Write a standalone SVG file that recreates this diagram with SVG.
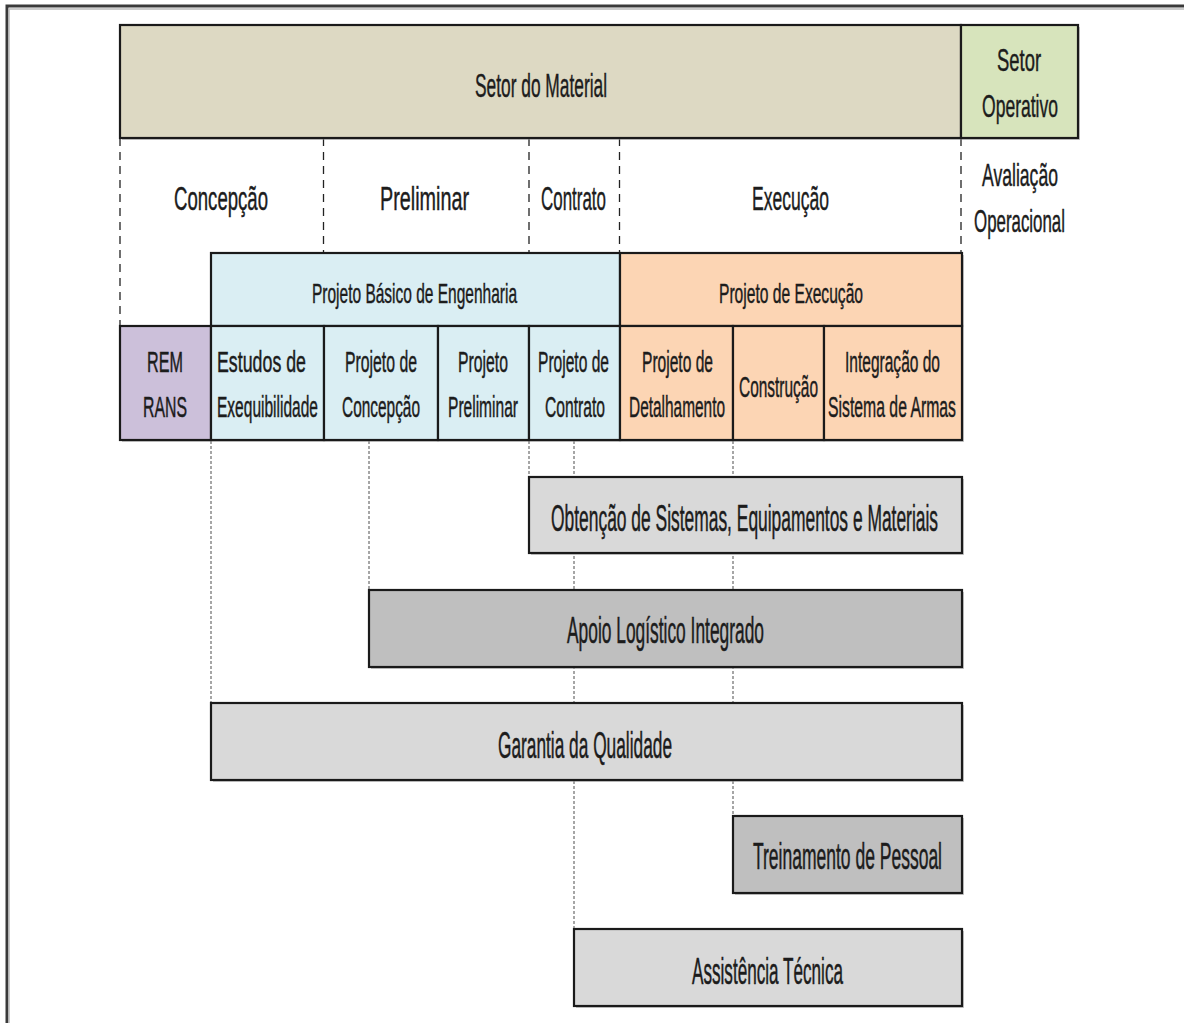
<svg xmlns="http://www.w3.org/2000/svg" width="1184" height="1023" viewBox="0 0 1184 1023">
<style>
text{font-family:"Liberation Sans",Arial,sans-serif;fill:#1c1c1c;stroke:#1c1c1c;stroke-width:0.25;text-anchor:middle}
.tp{font-size:18.5px}
.go{font-size:17.2px}
.hd{font-size:15.5px}
.rw{font-size:15.7px}
.br{font-size:17.4px}
.box{stroke:#1a1a1a;stroke-width:2.2}
.sh{fill:#9a9a9a;opacity:0.55}
.dash{stroke:#222;stroke-width:1.3;stroke-dasharray:8 6;fill:none}
.dot{stroke:#777;stroke-width:1.3;stroke-dasharray:3 2;fill:none}
.tan{fill:#DDD9C3}.grn{fill:#D7E4BC}.blu{fill:#DAEEF3}.pch{fill:#FCD5B4}.pur{fill:#CCC0DA}.lg{fill:#D9D9D9}.dg{fill:#BFBFBF}
</style>
<rect x="0" y="0" width="1184" height="1023" fill="#ffffff"/>
<path d="M7,1023 V6 H1184" fill="none" stroke="#3a3a3a" stroke-width="3"/>
<path d="M9,1023 V9 H1184" fill="none" stroke="#bbbbbb" stroke-width="1.5"/>

<g id="connectors">
<line class="dash" x1="120" y1="138" x2="120" y2="326"/>
<line class="dash" x1="323.5" y1="138" x2="323.5" y2="253"/>
<line class="dash" x1="529" y1="138" x2="529" y2="253"/>
<line class="dash" x1="619.5" y1="138" x2="619.5" y2="253"/>
<line class="dash" x1="961" y1="138" x2="961" y2="252"/>
<line class="dot" x1="211" y1="441" x2="211" y2="703"/>
<line class="dot" x1="369" y1="441" x2="369" y2="590"/>
<line class="dot" x1="529" y1="441" x2="529" y2="477"/>
<line class="dot" x1="574" y1="441" x2="574" y2="929"/>
<line class="dot" x1="733" y1="441" x2="733" y2="816"/>
</g>

<g id="setor-material">
<rect class="sh" x="122" y="27" width="841" height="113"/>
<rect class="box tan" x="120" y="25" width="841" height="113"/>
<text class="tp" transform="translate(541,97) scale(1,1.78)" textLength="132" lengthAdjust="spacingAndGlyphs">Setor do Material</text>
</g>
<g id="setor-operativo">
<rect class="sh" x="963" y="27" width="117" height="113"/>
<rect class="box grn" x="961" y="25" width="117" height="113"/>
<text class="go" transform="translate(1019,71) scale(1,1.86)" textLength="44" lengthAdjust="spacingAndGlyphs">Setor</text>
<text class="go" transform="translate(1020,117) scale(1,1.86)" textLength="76" lengthAdjust="spacingAndGlyphs">Operativo</text>
</g>

<g id="fase-concepcao"><text class="tp" transform="translate(221,210) scale(1,1.78)" textLength="94" lengthAdjust="spacingAndGlyphs">Concepção</text></g>
<g id="fase-preliminar"><text class="tp" transform="translate(424.5,210) scale(1,1.78)" textLength="89" lengthAdjust="spacingAndGlyphs">Preliminar</text></g>
<g id="fase-contrato"><text class="tp" transform="translate(573.5,210) scale(1,1.78)" textLength="65" lengthAdjust="spacingAndGlyphs">Contrato</text></g>
<g id="fase-execucao"><text class="tp" transform="translate(790.5,210) scale(1,1.78)" textLength="77" lengthAdjust="spacingAndGlyphs">Execução</text></g>
<g id="fase-avaliacao">
<text class="go" transform="translate(1020,186) scale(1,1.86)" textLength="76" lengthAdjust="spacingAndGlyphs">Avaliação</text>
<text class="go" transform="translate(1019.5,232) scale(1,1.86)" textLength="91" lengthAdjust="spacingAndGlyphs">Operacional</text>
</g>

<g id="projeto-basico">
<rect class="sh" x="213" y="255" width="409" height="73"/>
<rect class="box blu" x="211" y="253" width="409" height="73"/>
<text class="hd" transform="translate(414.5,303) scale(1,1.8)" textLength="205" lengthAdjust="spacingAndGlyphs">Projeto Básico de Engenharia</text>
</g>
<g id="projeto-execucao">
<rect class="sh" x="622" y="255" width="342" height="73"/>
<rect class="box pch" x="620" y="253" width="342" height="73"/>
<text class="hd" transform="translate(791,303) scale(1,1.8)" textLength="144" lengthAdjust="spacingAndGlyphs">Projeto de Execução</text>
</g>

<g id="rem-rans">
<rect class="sh" x="122" y="328" width="91" height="114"/>
<rect class="box pur" x="120" y="326" width="91" height="114"/>
<text class="rw" transform="translate(165,372) scale(1,1.91)" textLength="36" lengthAdjust="spacingAndGlyphs">REM</text>
<text class="rw" transform="translate(165,417) scale(1,1.91)" textLength="44" lengthAdjust="spacingAndGlyphs">RANS</text>
</g>
<g id="estudos">
<rect class="sh" x="213" y="328" width="113" height="114"/>
<rect class="box blu" x="211" y="326" width="113" height="114"/>
<text class="rw" transform="translate(261.5,372) scale(1,1.91)" textLength="89" lengthAdjust="spacingAndGlyphs">Estudos de</text>
<text class="rw" transform="translate(267.5,417) scale(1,1.91)" textLength="101" lengthAdjust="spacingAndGlyphs">Exequibilidade</text>
</g>
<g id="projeto-concepcao">
<rect class="sh" x="326" y="328" width="114" height="114"/>
<rect class="box blu" x="324" y="326" width="114" height="114"/>
<text class="rw" transform="translate(381,372) scale(1,1.91)" textLength="72" lengthAdjust="spacingAndGlyphs">Projeto de</text>
<text class="rw" transform="translate(381,417) scale(1,1.91)" textLength="78" lengthAdjust="spacingAndGlyphs">Concepção</text>
</g>
<g id="projeto-preliminar">
<rect class="sh" x="440" y="328" width="91" height="114"/>
<rect class="box blu" x="438" y="326" width="91" height="114"/>
<text class="rw" transform="translate(483,372) scale(1,1.91)" textLength="50" lengthAdjust="spacingAndGlyphs">Projeto</text>
<text class="rw" transform="translate(483,417) scale(1,1.91)" textLength="70" lengthAdjust="spacingAndGlyphs">Preliminar</text>
</g>
<g id="projeto-contrato">
<rect class="sh" x="531" y="328" width="91" height="114"/>
<rect class="box blu" x="529" y="326" width="91" height="114"/>
<text class="rw" transform="translate(573.5,372) scale(1,1.91)" textLength="71" lengthAdjust="spacingAndGlyphs">Projeto de</text>
<text class="rw" transform="translate(575,417) scale(1,1.91)" textLength="60" lengthAdjust="spacingAndGlyphs">Contrato</text>
</g>
<g id="projeto-detalhamento">
<rect class="sh" x="622" y="328" width="113" height="114"/>
<rect class="box pch" x="620" y="326" width="113" height="114"/>
<text class="rw" transform="translate(677.5,372) scale(1,1.91)" textLength="71" lengthAdjust="spacingAndGlyphs">Projeto de</text>
<text class="rw" transform="translate(677,417) scale(1,1.91)" textLength="96" lengthAdjust="spacingAndGlyphs">Detalhamento</text>
</g>
<g id="construcao">
<rect class="sh" x="735" y="328" width="91" height="114"/>
<rect class="box pch" x="733" y="326" width="91" height="114"/>
<text class="rw" transform="translate(778.5,397) scale(1,1.91)" textLength="79" lengthAdjust="spacingAndGlyphs">Construção</text>
</g>
<g id="integracao">
<rect class="sh" x="826" y="328" width="138" height="114"/>
<rect class="box pch" x="824" y="326" width="138" height="114"/>
<text class="rw" transform="translate(892.5,372) scale(1,1.91)" textLength="95" lengthAdjust="spacingAndGlyphs">Integração do</text>
<text class="rw" transform="translate(892,417) scale(1,1.91)" textLength="128" lengthAdjust="spacingAndGlyphs">Sistema de Armas</text>
</g>

<g id="obtencao">
<rect class="sh" x="531" y="479" width="433" height="76"/>
<rect class="box lg" x="529" y="477" width="433" height="76"/>
<text class="br" transform="translate(744.5,531) scale(1,2.07)" textLength="387" lengthAdjust="spacingAndGlyphs">Obtenção de Sistemas, Equipamentos e Materiais</text>
</g>
<g id="apoio">
<rect class="sh" x="371" y="592" width="593" height="77"/>
<rect class="box dg" x="369" y="590" width="593" height="77"/>
<text class="br" transform="translate(665.5,643) scale(1,2.07)" textLength="197" lengthAdjust="spacingAndGlyphs">Apoio Logístico Integrado</text>
</g>
<g id="garantia">
<rect class="sh" x="213" y="705" width="751" height="77"/>
<rect class="box lg" x="211" y="703" width="751" height="77"/>
<text class="br" transform="translate(585,758) scale(1,2.07)" textLength="174" lengthAdjust="spacingAndGlyphs">Garantia da Qualidade</text>
</g>
<g id="treinamento">
<rect class="sh" x="735" y="818" width="229" height="77"/>
<rect class="box dg" x="733" y="816" width="229" height="77"/>
<text class="br" transform="translate(847.5,869) scale(1,2.07)" textLength="189" lengthAdjust="spacingAndGlyphs">Treinamento de Pessoal</text>
</g>
<g id="assistencia">
<rect class="sh" x="576" y="931" width="388" height="77"/>
<rect class="box lg" x="574" y="929" width="388" height="77"/>
<text class="br" transform="translate(767.5,984) scale(1,2.07)" textLength="151" lengthAdjust="spacingAndGlyphs">Assistência Técnica</text>
</g>
</svg>
